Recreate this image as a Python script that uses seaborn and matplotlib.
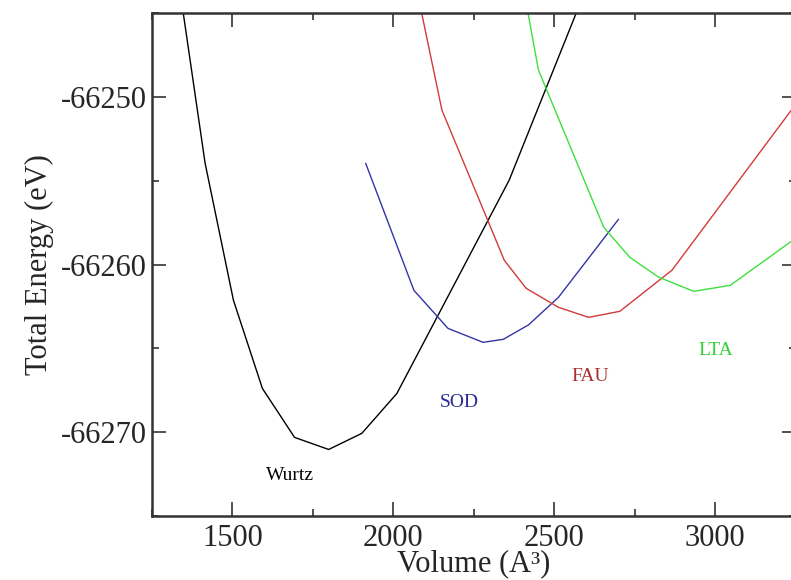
import numpy as np
import pandas as pd
import matplotlib
matplotlib.use("Agg")
import matplotlib.pyplot as plt
import seaborn as sns
from matplotlib.ticker import MultipleLocator

# Data
wurtz_v = [1300, 1415, 1503, 1593, 1693, 1799, 1902, 2011, 2360, 2650]
wurtz_e = [-66238.8, -66253.96, -66262.13, -66267.39, -66270.31, -66271.03, -66270.07, -66267.69, -66254.97, -66241.1]

sod_v = [1914, 2064, 2170, 2279, 2342, 2420, 2513, 2700]
sod_e = [-66253.96, -66261.54, -66263.81, -66264.64, -66264.46, -66263.6, -66261.96, -66257.30]

fau_v = [2050, 2151, 2345, 2413, 2513, 2607, 2704, 2866, 3260]
fau_e = [-66241.5, -66250.79, -66259.75, -66261.42, -66262.55, -66263.15, -66262.79, -66260.34, -66250.2]

lta_v = [2390, 2451, 2654, 2735, 2825, 2934, 3047, 3260]
lta_e = [-66242.0, -66248.40, -66257.78, -66259.57, -66260.76, -66261.60, -66261.24, -66258.3]

series_names = ["Wurtz", "SOD", "FAU", "LTA"]
line_colors = ["#000000", "#3434a8", "#d43a3a", "#3ee03e"]
text_colors = ["#000000", "#2a2a90", "#a83030", "#38d038"]
label_pos = [(1605, -66272.6), (2145, -66268.2), (2553, -66266.7), (2948, -66265.1)]

frames = []
for name, v, e in zip(series_names, [wurtz_v, sod_v, fau_v, lta_v], [wurtz_e, sod_e, fau_e, lta_e]):
    frames.append(pd.DataFrame({"Volume": v, "Energy": e, "Structure": name}))
df = pd.concat(frames, ignore_index=True)

sns.set_theme(style="white")
plt.rcParams["font.family"] = ["Liberation Serif", "DejaVu Serif"]
plt.rcParams["axes.unicode_minus"] = False

fig = plt.figure(figsize=(7.91, 5.80), dpi=100)
ax = fig.add_axes([0.1922, 0.1103, 0.8135, 0.8672])

sns.lineplot(data=df, x="Volume", y="Energy", hue="Structure", palette=dict(zip(series_names, line_colors)),
             sort=False, estimator=None, linewidth=1.0, legend=False, ax=ax)

for name, (tx, ty), c in zip(series_names, label_pos, text_colors):
    ax.text(tx, ty, name, color=c, fontsize=14, ha="left", va="center")

ax.set_xlim(1250, 3250)
ax.set_ylim(-66275, -66245)
ax.xaxis.set_major_locator(MultipleLocator(500))
ax.xaxis.set_minor_locator(MultipleLocator(250))
ax.yaxis.set_major_locator(MultipleLocator(10))
ax.yaxis.set_minor_locator(MultipleLocator(5))
ax.tick_params(which="both", direction="in", top=True, right=True, bottom=True, left=True, color="#333333")
ax.tick_params(which="major", length=10, width=1.2, labelsize=22)
ax.tick_params(axis="x", which="major", pad=6)
ax.tick_params(axis="y", which="major", pad=4)
ax.tick_params(which="minor", length=5, width=1.2)
ax.ticklabel_format(useOffset=False, style="plain", axis="y")

for s in ax.spines.values():
    s.set_color("#333333")
    s.set_linewidth(1.8)
    s.set_visible(True)

ax.set_xlabel("Volume (A³)", fontsize=22, labelpad=-3)
ax.set_ylabel("Total Energy (eV)", fontsize=22, labelpad=5)

fig.savefig("out.png", dpi=100)
